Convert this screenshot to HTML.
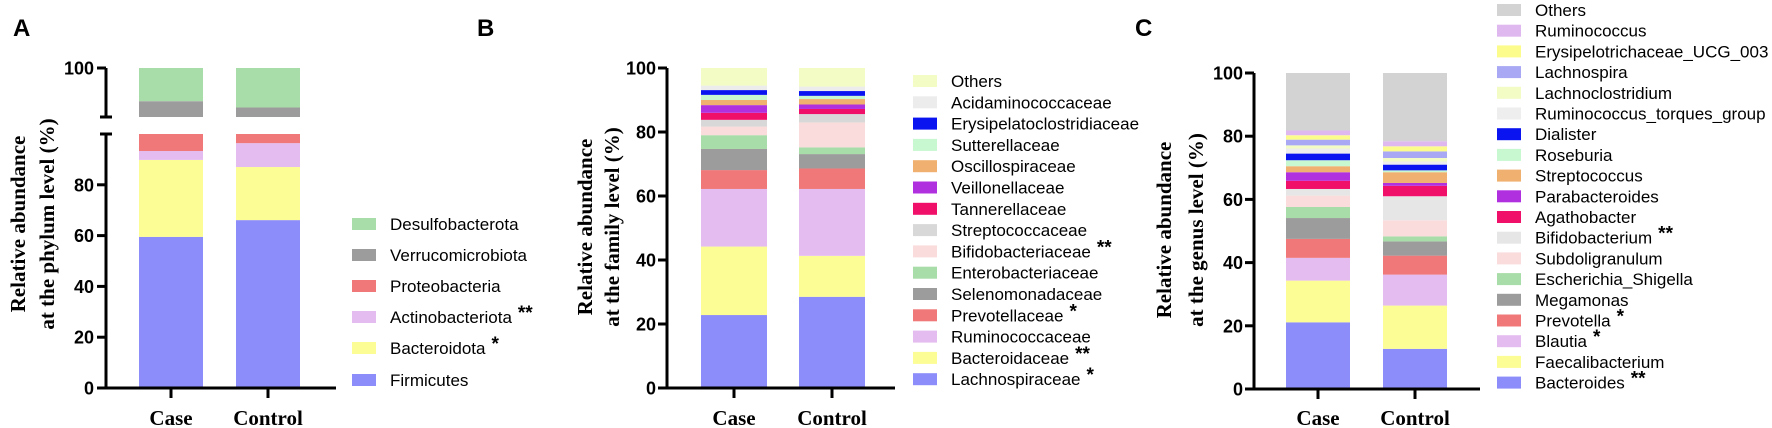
<!DOCTYPE html>
<html><head><meta charset="utf-8"><style>
html,body{margin:0;padding:0;background:#fff}
svg{display:block}
.tk{font:bold 18px "Liberation Sans",sans-serif}
.xl{font:bold 21px "Liberation Serif",serif}
.yt{font:bold 21px "Liberation Serif",serif}
.lg{font:17px "Liberation Sans",sans-serif}
.pt{font:bold 24px "Liberation Sans",sans-serif}
</style></head><body>
<svg id="fig" width="1772" height="428" viewBox="0 0 1772 428" xmlns="http://www.w3.org/2000/svg"></svg>
<script>
// ---------- data ----------
const groups = ["Case","Control"];
// Panel A (phylum) lower segment (0-100 scale)
const phylaLow = ["Firmicutes","Bacteroidota","Actinobacteriota","Proteobacteria"];
const phylaLowCase = [59.5,30.3,3.5,6.7];
const phylaLowControl = [66.1,20.9,9.4,3.6];
// Panel A upper segment (scale 96.9-100)
const phylaUp = ["Verrucomicrobiota","Desulfobacterota"];
const phylaUpCase = [1.0,2.1];
const phylaUpControl = [0.6,2.5];
const phylaLegend = ["Desulfobacterota","Verrucomicrobiota","Proteobacteria","Actinobacteriota","Bacteroidota","Firmicutes"];
const phylaStars = ["","","","**","*",""];
// Panel B (family), bottom to top
const families = ["Lachnospiraceae","Bacteroidaceae","Ruminococcaceae","Prevotellaceae","Selenomonadaceae","Enterobacteriaceae","Bifidobacteriaceae","Streptococcaceae","Tannerellaceae","Veillonellaceae","Oscillospiraceae","Sutterellaceae","Erysipelatoclostridiaceae","Acidaminococcaceae","Others"];
const familyStars = ["*","**","","*","","","**","","","","","","","",""];
const familyCase = [22.8,21.4,18.0,5.9,6.6,4.3,2.7,2.1,2.2,2.4,1.6,1.6,1.5,1.4,5.5];
const familyControl = [28.5,12.8,20.9,6.4,4.5,2.1,7.8,2.6,1.6,1.4,1.7,1.0,1.5,1.4,5.8];
// Panel C (genus), bottom to top
const genera = ["Bacteroides","Faecalibacterium","Blautia","Prevotella","Megamonas","Escherichia_Shigella","Subdoligranulum","Bifidobacterium","Agathobacter","Parabacteroides","Streptococcus","Roseburia","Dialister","Ruminococcus_torques_group","Lachnoclostridium","Lachnospira","Erysipelotrichaceae_UCG_003","Ruminococcus","Others"];
const genusStars = ["**","","*","*","","","","**","","","","","","","","","","",""];
const genusCase = [21.1,13.2,7.2,6.0,6.6,3.5,3.6,2.1,2.6,2.7,1.9,1.9,2.1,1.6,1.0,1.8,1.4,1.5,18.2];
const genusControl = [12.7,13.7,9.8,6.0,4.5,1.6,5.1,7.6,3.3,0.9,3.4,0.6,1.8,1.0,1.1,2.1,1.6,1.6,21.6];

// ---------- styling ----------
const C = {
 blue:"#8c8cfa", yellow:"#fdfd96", lilac:"#e4bcf0", salmon:"#f07878", gray:"#9c9c9c", green:"#a8dca8",
 oyel:"#f2fcc4", lgray:"#ececec", dblue:"#0a14f0", mint:"#c8f8d0", orange:"#f0b070", purple:"#b030e0",
 magenta:"#f0106a", sgray:"#d8d8d8", pink:"#fadcdc", ogray:"#d3d3d3", lblue:"#a8a8f4", yel2:"#fcfc8c"
};
const phylaColors = {Firmicutes:C.blue,Bacteroidota:C.yellow,Actinobacteriota:C.lilac,Proteobacteria:C.salmon,Verrucomicrobiota:C.gray,Desulfobacterota:C.green};
const familyColors = [C.blue,C.yellow,C.lilac,C.salmon,C.gray,C.green,C.pink,C.sgray,C.magenta,C.purple,C.orange,C.mint,C.dblue,C.lgray,C.oyel];
const genusColors = [C.blue,C.yellow,C.lilac,C.salmon,C.gray,C.green,C.pink,"#e6e6e6",C.magenta,C.purple,C.orange,C.mint,C.dblue,"#eeeeee",C.oyel,C.lblue,C.yel2,"#e0b8f0",C.ogray];

const svg = document.getElementById('fig');
const NS = "http://www.w3.org/2000/svg";
function mk(tag, attrs, parent){
  const e = document.createElementNS(NS, tag);
  for (const k in attrs) e.setAttribute(k, attrs[k]);
  (parent||svg).appendChild(e);
  return e;
}
function line(x1,y1,x2,y2,w,name){
  const e = mk('line',{x1:x1,y1:y1,x2:x2,y2:y2,stroke:'#000','stroke-width':w||3});
  
  
  return e;
}
function text(x,y,s,cls,anchor,name){
  const e = mk('text',{x:x,y:y,class:cls,'text-anchor':anchor||'start'});
  e.textContent = s;
  
  
  return e;
}
function legendRow(x, yc, color, label, star, rowName){
  const r = mk('rect',{x:x,y:yc-6,width:24,height:12,fill:color});
  
  
  const t = mk('text',{x:x+38,y:yc+6,class:'lg'});
  t.textContent = label;
  if (star){
    const s = mk('tspan',{dx:6,dy:-4,'font-weight':'bold','font-size':'19'},t);
    s.textContent = star;
  }
  
  
}
function yTitle(cx1,cx2,cy,l1,l2,name){
  const t1 = mk('text',{x:0,y:0,class:'yt','text-anchor':'middle',transform:`translate(${cx1+7},${cy}) rotate(-90)`});
  t1.textContent = l1;
  
  
  const t2 = mk('text',{x:0,y:0,class:'yt','text-anchor':'middle',transform:`translate(${cx2+7},${cy}) rotate(-90)`});
  t2.textContent = l2;
  
  
}
function stack(xL, w, vals, colors, yScale, base, prefix){
  let cum = base;
  vals.forEach((v,i)=>{
    const y1 = yScale(cum), y2 = yScale(cum+v);
    const r = mk('rect',{x:xL,y:y2,width:w,height:Math.max(0,y1-y2),fill:colors[i]});
    
    
    cum += v;
  });
}

// ---------- Panel A ----------
(function(){
  const ax = 106, y0 = 388, yLowTop = 134;
  const yL = v => y0 - (y0-yLowTop)*v/100;
  const upMin = 96.9, yUpTop = 68, yUpBot = 117;
  const yU = v => yUpBot - (yUpBot-yUpTop)*(v-upMin)/(100-upMin);
  text(13,36,"A",'pt','start','panel-a-label');
  yTitle(18,47,224,"Relative abundance","at the phylum level (%)",'panel-a-y-title');
  const bx = [139,236], bw = 64;
  [phylaLowCase, phylaLowControl].forEach((vals,gi)=>{
    stack(bx[gi], bw, vals, phylaLow.map(n=>phylaColors[n]), yL, 0, 'phylum-'+groups[gi].toLowerCase());
  });
  [phylaUpCase, phylaUpControl].forEach((vals,gi)=>{
    stack(bx[gi], bw, vals, phylaUp.map(n=>phylaColors[n]), yU, upMin, 'phylum-upper-'+groups[gi].toLowerCase());
  });
  line(ax,yLowTop,ax,y0+1.5,3,'panel-a-y-axis-lower');
  line(ax,yUpTop,ax,yUpBot,3,'panel-a-y-axis-upper');
  line(100,yLowTop,112,yLowTop,3,'panel-a-axis-break-lower');
  line(100,yUpBot,112,yUpBot,3,'panel-a-axis-break-upper');
  [0,20,40,60,80].forEach(v=>{ line(97,yL(v),ax,yL(v),3,'panel-a-y-tick'); text(94,yL(v)+6.5,String(v),'tk','end','panel-a-y-tick-label'); });
  line(97,yU(100),ax,yU(100),3,'panel-a-y-tick'); text(94,yU(100)+6.5,"100",'tk','end','panel-a-y-tick-label');
  line(ax,y0,336,y0,3,'panel-a-x-axis');
  groups.forEach((g,i)=>{ const cx=bx[i]+bw/2; line(cx,y0,cx,398,3,'panel-a-x-tick'); text(cx,425,g,'xl','middle','panel-a-x-label-'+g.toLowerCase()); });
  const ly = [224,255,286,317,348,380];
  phylaLegend.forEach((n,i)=>legendRow(352,ly[i],phylaColors[n],n,phylaStars[i],'legend-a-'+n.toLowerCase()));
})();

// ---------- generic panel ----------
function panel(cfg){
  const y = v => cfg.y0 - (cfg.y0-cfg.yTop)*v/100;
  text(cfg.lx,36,cfg.letter,'pt','start','panel-'+cfg.letter.toLowerCase()+'-label');
  yTitle(cfg.t1,cfg.t2,cfg.tcy,"Relative abundance",cfg.title2,'panel-'+cfg.letter.toLowerCase()+'-y-title');
  [cfg.caseVals,cfg.ctrlVals].forEach((vals,gi)=>{
    stack(cfg.bx[gi], cfg.bw, vals, cfg.colors, y, 0, cfg.key+'-'+groups[gi].toLowerCase());
  });
  line(cfg.ax,y(100),cfg.ax,cfg.y0+1.5,3,'panel-'+cfg.letter.toLowerCase()+'-y-axis');
  [0,20,40,60,80,100].forEach(v=>{ line(cfg.ax-9,y(v),cfg.ax,y(v),3,'y-tick'); text(cfg.ax-11,y(v)+6.5,String(v),'tk','end','y-tick-label'); });
  line(cfg.ax,cfg.y0,cfg.xEnd,cfg.y0,3,'panel-'+cfg.letter.toLowerCase()+'-x-axis');
  groups.forEach((g,i)=>{ const cx=cfg.bx[i]+cfg.bw/2; line(cx,cfg.y0,cx,cfg.y0+10,3,'x-tick'); text(cx,425,g,'xl','middle','x-label-'+g.toLowerCase()); });
  for (let i=cfg.names.length-1, r=0; i>=0; i--, r++){
    legendRow(cfg.legX, cfg.legY0 + r*cfg.legDy, cfg.colors[i], cfg.names[i], cfg.stars[i], 'legend-'+cfg.key+'-'+cfg.names[i].toLowerCase());
  }
}
panel({letter:"B",key:'family',lx:477,t1:585,t2:612,tcy:227,ax:667,y0:388,yTop:68,xEnd:895,
  bx:[701,799],bw:66,caseVals:familyCase,ctrlVals:familyControl,colors:familyColors,names:families,stars:familyStars,
  title2:"at the family level (%)",legX:913,legY0:81,legDy:21.3});
panel({letter:"C",key:'genus',lx:1135,t1:1164,t2:1196,tcy:230,ax:1254,y0:389,yTop:73,xEnd:1480,
  bx:[1286,1383],bw:64,caseVals:genusCase,ctrlVals:genusControl,colors:genusColors,names:genera,stars:genusStars,
  title2:"at the genus level (%)",legX:1497,legY0:10,legDy:20.7});
</script>
</body></html>
